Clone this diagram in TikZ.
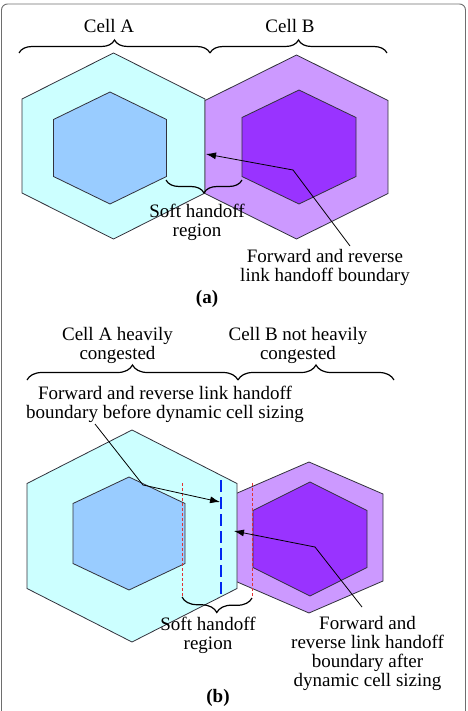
\documentclass[tikz,border=0pt]{standalone}
\usepackage{fontspec}
\setmainfont{Liberation Serif}
\usetikzlibrary{arrows.meta,decorations.pathreplacing}
\definecolor{cellAout}{RGB}{204,255,255}
\definecolor{cellAin}{RGB}{153,204,255}
\definecolor{cellBout}{RGB}{204,153,255}
\definecolor{cellBin}{RGB}{153,51,255}
\definecolor{edgegray}{RGB}{50,50,60}
\definecolor{framegray}{RGB}{110,110,110}
\definecolor{bndred}{RGB}{225,50,50}
\definecolor{bndblue}{RGB}{0,40,240}

% hexagon: fill, cx, cy, half width, half height, half side
\newcommand{\hexcell}[6]{%
  \filldraw[hexline,fill=#1]
    ({#2},{#3-#5}) -- ({#2+#4},{#3-#6}) -- ({#2+#4},{#3+#6}) --
    ({#2},{#3+#5}) -- ({#2-#4},{#3+#6}) -- ({#2-#4},{#3-#6}) -- cycle;}

\begin{document}
\begin{tikzpicture}[
  x=1pt,
  y=-1pt,
  hexline/.style={
    draw=edgegray,
    line width=.8pt
  },
  brace/.style={
    draw=black,
    line width=1.2pt,
    decorate,
    decoration={brace,amplitude=#1}
  },
  label/.style={
    font=\fontsize{19}{19}\selectfont,
    align=center,
    inner sep=0pt
  },
  pointer/.style={
    -{Latex[length=10pt,width=7pt]},
    line width=.8pt,
    black
  },
  oldbnd/.style={
    draw=bndred,
    line width=.9pt,
    dash pattern=on 3pt off 2pt
  },
  newbnd/.style={
    draw=bndblue,
    line width=2.8pt,
    dash pattern=on 12pt off 5pt
  }
]
\useasboundingbox (0,0) rectangle (467,711);
\draw[framegray,line width=.9pt,rounded corners=6pt] (1.5,4) rectangle (465.5,730);

%% (a) equal cells
\hexcell{cellAout}{113.5}{146}{91.5}{93}{47}
\hexcell{cellBout}{296.5}{147}{91.5}{92}{46.5}
\hexcell{cellAin}{110}{148}{56.5}{56}{28.5}
\hexcell{cellBin}{299}{147}{57}{57}{29.5}

\coordinate (ba1) at (19,53);
\coordinate (ba2) at (210,53);
\coordinate (ba3) at (387,53);
\draw[brace=13pt] (ba1) -- (ba2);
\draw[brace=13pt] (ba2) -- (ba3);
\node[label,anchor=base] (cellA) at (109,33) {Cell A};
\node[label,anchor=base] (cellB) at (290,33) {Cell B};

\coordinate (sa1) at (242,180);
\coordinate (sa2) at (166,180);
\draw[brace=13pt] (sa1) -- (sa2);
\node[label,anchor=north] (softA) at (197,204) {Soft handoff\\region};

\node[label,anchor=north] (fwdA) at (325,249) {Forward and reverse\\link handoff boundary};
\coordinate (pa0) at (350,246);
\coordinate (pa1) at (293,170);
\coordinate (pa2) at (206,154);
\draw[pointer] (pa0) -- (pa1) -- (pa2);

\node[label,anchor=base] (capA) at (207,303) {\textbf{(a)}};

%% (b) dynamic cell sizing
\hexcell{cellBout}{309}{537.5}{74}{75.5}{43.5}
\hexcell{cellAout}{132}{536}{105}{106}{52.5}
\hexcell{cellAin}{129}{533.5}{56}{56.5}{30}
\hexcell{cellBin}{310}{539}{57}{57}{28.5}

\coordinate (bb1) at (27,380);
\coordinate (bb2) at (238,380);
\coordinate (bb3) at (394,380);
\draw[brace=15pt] (bb1) -- (bb2);
\draw[brace=15pt] (bb2) -- (bb3);
\node[label,anchor=north] (heavyA) at (117.5,327) {Cell A heavily\\congested};
\node[label,anchor=north] (lightB) at (298,327) {Cell B not heavily\\congested};

% old and new boundaries
\coordinate (ra1) at (182,483);
\coordinate (ra2) at (182,597);
\coordinate (rb1) at (252,483);
\coordinate (rb2) at (252,598);
\draw[oldbnd] (ra1) -- (ra2);
\draw[oldbnd] (rb1) -- (rb2);
\coordinate (nb1) at (221,480);
\coordinate (nb2) at (221,597);
\draw[newbnd] (nb1) -- (nb2);

\draw[brace=15pt] (rb2) -- (ra2);
\node[label,anchor=north] (softB) at (208,617) {Soft handoff\\region};

\node[label,anchor=north] (beforeB) at (165,386) {Forward and reverse link handoff\\boundary before dynamic cell sizing};
\coordinate (pb0) at (95,424);
\coordinate (pb1) at (143,485);
\coordinate (pb2) at (220,502);
\draw[pointer] (pb0) -- (pb1) -- (pb2);

\node[label,anchor=north] (afterB) at (367.5,616) {Forward and\\reverse link handoff\\boundary after\\dynamic cell sizing};
\coordinate (pc0) at (362,607);
\coordinate (pc1) at (315,547);
\coordinate (pc2) at (234,531);
\draw[pointer] (pc0) -- (pc1) -- (pc2);

\node[label,anchor=base] (capB) at (218,702) {\textbf{(b)}};
\end{tikzpicture}
\end{document}
